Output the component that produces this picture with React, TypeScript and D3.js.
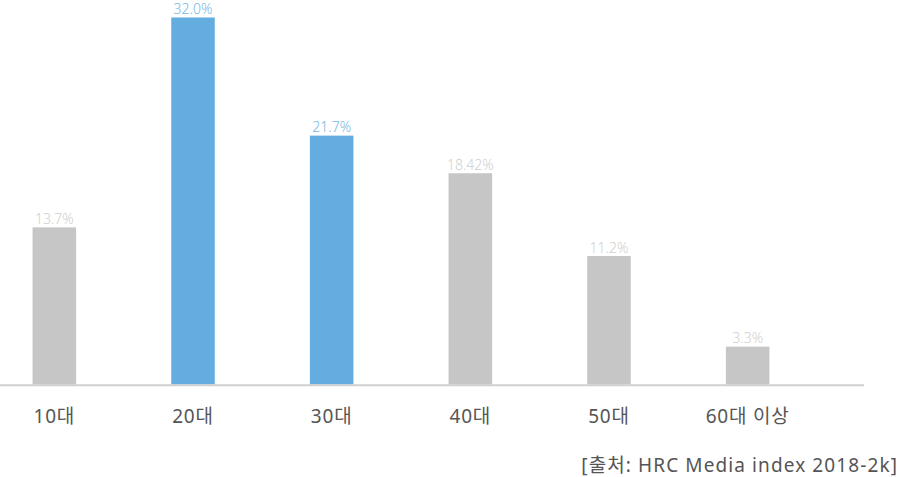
import React from "react";
import * as d3 from "d3";

const categories = ["10대", "20대", "30대", "40대", "50대", "60대 이상"];
const values = [13.7, 32.0, 21.7, 18.42, 11.2, 3.3];
const valueLabels = ["13.7%", "32.0%", "21.7%", "18.42%", "11.2%", "3.3%"];
const highlighted = [false, true, true, false, false, false];
const sourceText = "[출처: HRC Media index 2018-2k]";

const W = 900;
const H = 477;

export default function App() {
  const x = d3
    .scaleBand<string>()
    .domain(categories)
    .range([-15, 817])
    .paddingInner(0.686)
    .paddingOuter(0.343);
  const y = d3.scaleLinear().domain([0, 32]).range([384.5, 17.5]);
  const baseline = y(0);
  const font = "'Noto Sans', 'Noto Sans CJK KR', sans-serif";

  return (
    <svg
      width={W}
      height={H}
      style={{ position: "absolute", left: 0, top: 0, background: "#fff" }}
      fontFamily={font}
    >
      {categories.map((c, i) => {
        const bx = x(c)!;
        const bw = x.bandwidth();
        const top = y(values[i]);
        return (
          <g key={c}>
            <rect
              x={bx}
              y={top}
              width={bw}
              height={baseline - top}
              fill={highlighted[i] ? "#63ade0" : "#c6c6c6"}
            />
            <text
              x={bx + bw / 2}
              y={top - 3.5}
              textAnchor="middle"
              fontSize={14}
              fontWeight={300}
              fill={highlighted[i] ? "#76b8e6" : "#cfcfcf"}
            >
              {valueLabels[i]}
            </text>
            <text
              x={bx + bw / 2}
              y={422.5}
              textAnchor="middle"
              fontSize={19}
              letterSpacing={0.8}
              fill="#555"
            >
              {c}
            </text>
          </g>
        );
      })}
      <line x1={0} x2={864} y1={385.3} y2={385.3} stroke="#d0d0d0" strokeWidth={2} />
      <text x={898} y={471.5} textAnchor="end" fontSize={19} letterSpacing={1.1} fill="#555">
        {sourceText}
      </text>
    </svg>
  );
}
